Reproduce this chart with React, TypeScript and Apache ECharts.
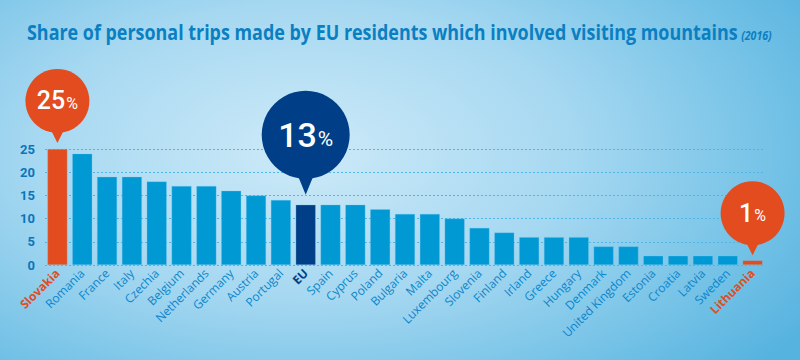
import React, { useEffect, useRef } from "react";
import * as echarts from "echarts";

const categories = [
  "Slovakia", "Romania", "France", "Italy", "Czechia", "Belgium", "Netherlands", "Germany",
  "Austria", "Portugal", "EU", "Spain", "Cyprus", "Poland", "Bulgaria", "Malta", "Luxembourg",
  "Slovenia", "Finland", "Irland", "Greece", "Hungary", "Denmark", "United Kingdom", "Estonia",
  "Croatia", "Latvia", "Sweden", "Lithuania",
];
const values = [25, 24, 19, 19, 18, 17, 17, 16, 15, 14, 13, 13, 13, 12, 11, 11, 10, 8, 7, 6, 6, 6, 4, 4, 2, 2, 2, 2, 1];
const yTicks = [0, 5, 10, 15, 20, 25];
const highlightHigh = "Slovakia";
const highlightLow = "Lithuania";
const highlightEU = "EU";
const titleMain = "Share of personal trips made by EU residents which involved visiting mountains";
const titleYear = "(2016)";

const ORANGE = "#e24c1f";
const NAVY = "#003f87";
const BLUE = "#0099d4";
const TEXT_BLUE = "#0a86cc";
const SANS = "'Open Sans', sans-serif";
const NUM = "Roboto, sans-serif";

export default function App() {
  const ref = useRef<HTMLDivElement>(null);
  useEffect(() => {
    if (!ref.current) return;
    const chart = echarts.init(ref.current, undefined, { renderer: "svg" });
    const iHigh = categories.indexOf(highlightHigh);
    const iLow = categories.indexOf(highlightLow);
    const iEU = categories.indexOf(highlightEU);
    const pinLabel = (v: number, big: boolean) => ({
      show: true,
      formatter: `{n|${v}}{p|%}`,
      rich: {
        n: { color: "#fff", fontSize: big ? 34 : 25, fontFamily: NUM, fontWeight: 500 },
        p: { color: "#fff", fontSize: big ? 21 : 16, fontFamily: NUM, padding: [big ? 8 : 5, 0, 0, 1] },
      },
    });
    // pin = circle marker + downward triangle marker, both anchored on the bar's value
    const pin = (i: number, color: string, radius: number, gap: number, triH: number, triW: number) => [
      {
        coord: [i, values[i]],
        symbol: "circle",
        symbolSize: radius * 2,
        symbolOffset: [0, -(gap + triH * 0.45 + radius + triH * 0.27)],
        itemStyle: { color },
        label: pinLabel(values[i], radius > 40),
      },
      {
        coord: [i, values[i]],
        symbol: "triangle",
        symbolRotate: 180,
        symbolSize: [triW, triH],
        symbolOffset: [0, -(gap + triH / 2)],
        itemStyle: { color },
        label: { show: false },
      },
    ];
    chart.setOption({
      animation: false,
      backgroundColor: "transparent",
      graphic: [
        {
          type: "text",
          left: 27,
          top: 21,
          scaleX: 0.815,
          style: {
            text: `{a|${titleMain}} {b|${titleYear}}`,
            rich: {
              a: { fontFamily: SANS, fontWeight: "bold", fontSize: 22, fill: "#0a7fc2" },
              b: { fontFamily: SANS, fontStyle: "italic", fontWeight: "bold", fontSize: 13, fill: "#0a7fc2", padding: [6, 0, 0, 0] },
            },
          },
        },
      ],
      grid: { left: 45, right: 35, top: 149, bottom: 95 },
      xAxis: {
        type: "category",
        data: categories,
        axisLine: { show: false },
        axisTick: { show: false },
        axisLabel: {
          interval: 0,
          rotate: 45,
          margin: 6,
          fontFamily: SANS,
          fontSize: 12,
          color: TEXT_BLUE,
          formatter: (v: string) =>
            v === highlightHigh || v === highlightLow ? `{o|${v}}` : v === highlightEU ? `{e|${v}}` : v,
          rich: {
            o: { color: ORANGE, fontWeight: "bold", fontSize: 12, fontFamily: SANS },
            e: { color: NAVY, fontWeight: "bold", fontSize: 12, fontFamily: SANS },
          },
        },
      },
      yAxis: {
        type: "value",
        min: yTicks[0],
        max: yTicks[yTicks.length - 1],
        interval: 5,
        axisLine: { show: false },
        axisTick: { show: false },
        axisLabel: { fontFamily: NUM, fontWeight: "bold", fontSize: 13, color: "#0a76ba", margin: 10 },
        splitLine: { show: true, lineStyle: { color: "#4fb6e6", type: [2, 2], width: 1 } },
      },
      series: [
        {
          type: "bar",
          barWidth: 20,
          data: values.map((v, i) => ({
            value: v,
            itemStyle: {
              color: i === iHigh || i === iLow ? ORANGE : i === iEU ? NAVY : BLUE,
              borderColor: "rgba(120,200,240,0.6)",
              borderWidth: 0.5,
            },
          })),
          markPoint: {
            data: [
              ...pin(iHigh, ORANGE, 32, 6, 14, 14),
              ...pin(iEU, NAVY, 44, 10, 22, 18),
              ...pin(iLow, ORANGE, 32, 5, 14, 14),
            ],
          },
        },
      ],
    });
    return () => chart.dispose();
  }, []);
  return (
    <div
      style={{
        position: "absolute",
        left: 0,
        top: 0,
        width: 800,
        height: 360,
        background:
          "radial-gradient(ellipse 75% 90% at 38% 42%, #cdeaf8 0%, #a6d8f1 45%, #72c1e6 80%, #56b3df 100%)",
      }}
    >
      <div ref={ref} style={{ width: 800, height: 360 }} />
    </div>
  );
}
